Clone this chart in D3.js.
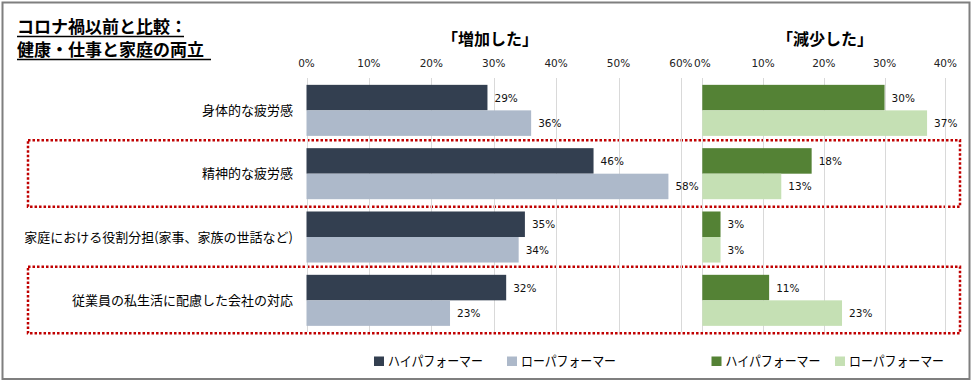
<!DOCTYPE html>
<html>
<head>
<meta charset="utf-8">
<script src="https://cdn.jsdelivr.net/npm/d3@7"></script>
<style>
  html, body { margin: 0; padding: 0; background: #fff; }
  svg { display: block; }
</style>
</head>
<body>
<div id="chart"></div>
<script>
(function() {
	"use strict";

	// data
	var categories = ["身体的な疲労感", "精神的な疲労感", "家庭における役割分担(家事、家族の世話など)", "従業員の私生活に配慮した会社の対応"];
	var highlighted = ["精神的な疲労感", "従業員の私生活に配慮した会社の対応"];
	var seriesNames = ["ハイパフォーマー", "ローパフォーマー"];
	var increasedHigh = [29, 46, 35, 32];
	var increasedLow = [36, 58, 34, 23];
	var decreasedHigh = [30, 18, 3, 11];
	var decreasedLow = [37, 13, 3, 23];
	var increasedTicks = [0, 10, 20, 30, 40, 50, 60];
	var decreasedTicks = [0, 10, 20, 30, 40];
	var titleLines = ["コロナ禍以前と比較：", "健康・仕事と家庭の両立"];

	var w = 974;
	var h = 384;
	var jpFont = "'Noto Sans CJK JP', 'Noto Sans', sans-serif";
	var numFont = "'DejaVu Sans', Verdana, sans-serif";

	var svg = d3.select("#chart").append("svg")
		.attr("width", w)
		.attr("height", h);

	// frame
	svg.append("rect")
		.attr("x", 2.5).attr("y", 2.5)
		.attr("width", 967).attr("height", 376.5)
		.attr("fill", "#fff")
		.attr("stroke", "#7f7f7f")
		.attr("stroke-width", 2);

	// title with underline
	titleLines.forEach(function(t, i) {
		var base = 33 + i * 23;
		var txt = svg.append("text")
			.attr("x", 17).attr("y", base)
			.attr("font-family", jpFont)
			.attr("font-size", 17)
			.attr("font-weight", "bold")
			.attr("fill", "#000")
			.text(t);
		var len = txt.node().getComputedTextLength() + (i === 1 ? 7 : -3);
		svg.append("line")
			.attr("x1", 17).attr("x2", 17 + len)
			.attr("y1", base + 3.5).attr("y2", base + 3.5)
			.attr("stroke", "#000")
			.attr("stroke-width", 1.5);
	});

	var y = d3.scaleBand()
		.domain(categories)
		.range([78.7, 332])
		.paddingInner(0.194)
		.paddingOuter(0.097);

	var ySub = d3.scaleBand()
		.domain(seriesNames)
		.range([0, y.bandwidth()]);

	// red dotted boxes behind everything
	svg.selectAll("rect.hl")
		.data(highlighted)
		.enter()
		.append("rect")
			.attr("class", "hl")
			.attr("x", 28)
			.attr("y", function(d) { return y(d) - 8; })
			.attr("width", 932)
			.attr("height", y.bandwidth() + 15.5)
			.attr("fill", "none")
			.attr("stroke", "#c00000")
			.attr("stroke-width", 2.5)
			.attr("stroke-dasharray", "2.5,2");

	function drawPanel(opts) {
		var x = d3.scaleLinear()
			.domain([0, opts.max])
			.range(opts.range);

		var g = svg.append("g");

		g.selectAll("line.grid")
			.data(opts.ticks)
			.enter()
			.append("line")
				.attr("class", "grid")
				.attr("x1", function(d) { return Math.round(x(d)) + 0.5; })
				.attr("x2", function(d) { return Math.round(x(d)) + 0.5; })
				.attr("y1", 78)
				.attr("y2", 332)
				.attr("stroke", "#d9d9d9")
				.attr("stroke-width", 1);

		g.selectAll("text.tick")
			.data(opts.ticks)
			.enter()
			.append("text")
				.attr("class", "tick")
				.attr("x", function(d) { return x(d); })
				.attr("y", 67)
				.attr("text-anchor", "middle")
				.attr("font-family", numFont)
				.attr("font-size", 10.5)
				.attr("fill", "#222")
				.text(function(d) { return d + "%"; });

		var rows = categories.map(function(c, i) {
			return [
				{ cat: c, s: seriesNames[0], v: opts.high[i], color: opts.colors[0] },
				{ cat: c, s: seriesNames[1], v: opts.low[i], color: opts.colors[1] }
			];
		});
		var flat = d3.merge(rows);

		g.selectAll("rect.bar")
			.data(flat)
			.enter()
			.append("rect")
				.attr("class", "bar")
				.attr("x", x(0))
				.attr("y", function(d) { return y(d.cat) + ySub(d.s); })
				.attr("width", function(d) { return x(d.v) - x(0); })
				.attr("height", ySub.bandwidth())
				.attr("fill", function(d) { return d.color; });

		g.selectAll("text.val")
			.data(flat)
			.enter()
			.append("text")
				.attr("class", "val")
				.attr("x", function(d) { return x(d.v) + 7; })
				.attr("y", function(d) { return y(d.cat) + ySub(d.s) + ySub.bandwidth() / 2 + 4; })
				.attr("font-family", numFont)
				.attr("font-size", 10.5)
				.attr("fill", "#111")
				.text(function(d) { return d.v + "%"; });

		svg.append("text")
			.attr("x", opts.headerX)
			.attr("y", 45)
			.attr("text-anchor", "middle")
			.attr("font-family", jpFont)
			.attr("font-size", 16)
			.attr("font-weight", "bold")
			.attr("fill", "#000")
			.text(opts.header);

		// legend
		opts.legendX.forEach(function(lx, i) {
			svg.append("rect")
				.attr("x", lx).attr("y", 356.5)
				.attr("width", 10).attr("height", 9.5)
				.attr("fill", opts.colors[i]);
			svg.append("text")
				.attr("x", lx + 14).attr("y", 366)
				.attr("font-family", jpFont)
				.attr("font-size", 13.5)
				.attr("textLength", 95)
				.attr("lengthAdjust", "spacingAndGlyphs")
				.attr("fill", "#000")
				.text(seriesNames[i]);
		});
	}

	drawPanel({
		max: 60, range: [306.5, 680.9], ticks: increasedTicks,
		high: increasedHigh, low: increasedLow,
		colors: ["#333f50", "#adb9ca"],
		header: "「増加した」", headerX: 490,
		legendX: [374, 507]
	});

	drawPanel({
		max: 40, range: [702.3, 945.3], ticks: decreasedTicks,
		high: decreasedHigh, low: decreasedLow,
		colors: ["#548235", "#c5e0b4"],
		header: "「減少した」", headerX: 825,
		legendX: [711.5, 835]
	});

	// category labels
	svg.selectAll("text.cat")
		.data(categories)
		.enter()
		.append("text")
			.attr("class", "cat")
			.attr("x", 293)
			.attr("y", function(d) { return y(d) + y.bandwidth() / 2 + 4.5; })
			.attr("text-anchor", "end")
			.attr("font-family", jpFont)
			.attr("font-size", 13)
			.attr("fill", "#000")
			.text(function(d) { return d; });
}());
</script>
</body>
</html>
